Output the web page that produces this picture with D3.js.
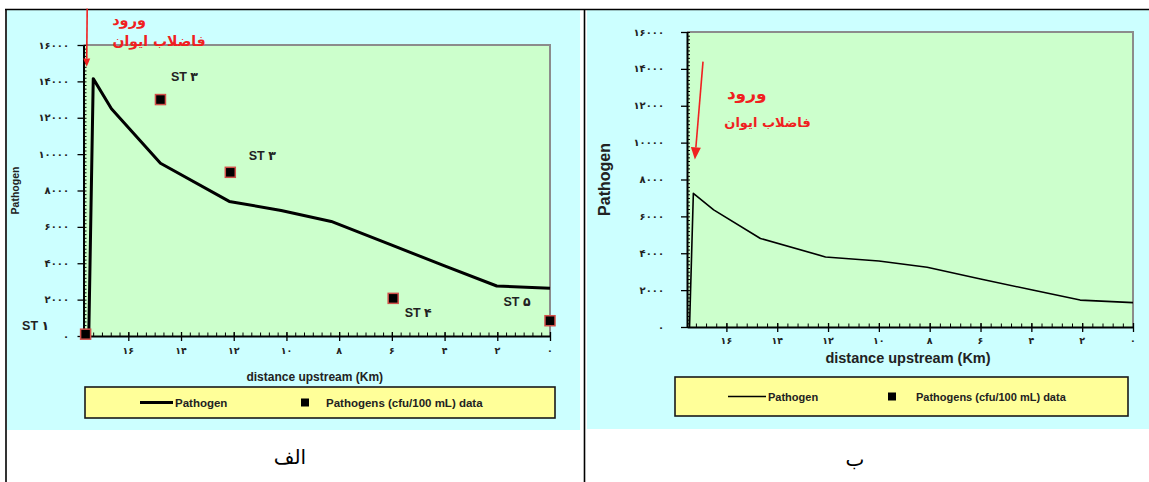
<!DOCTYPE html>
<html>
<head>
<meta charset="utf-8">
<script src="https://cdn.jsdelivr.net/npm/d3@7"></script>
<style>
  html, body { margin: 0; padding: 0; background: #fff; }
  svg { display: block; }
  text { font-family: "Liberation Sans", "DejaVu Sans", sans-serif; }
  .fa { font-family: "DejaVu Sans", sans-serif; }
</style>
</head>
<body>
<svg id="chart" width="1149" height="482"></svg>
<script>
// ---- data: panel الف (model line + measured stations) ----
const distanceA = [17.5, 17.33, 16.64, 14.78, 12.17, 10.2, 8.3, 6, 4, 2.02, 0];
const pathogenA = [0, 14150, 12500, 9500, 7400, 6900, 6300, 5000, 3850, 2750, 2620];
const stationDistA = [17.62, 14.78, 12.13, 5.95, 0];
const stationValA = [100, 13000, 9000, 2070, 840];
const stationLabelsA = ["ST ۱", "ST ۳", "ST ۳", "ST ۴", "ST ۵"];

// ---- data: panel ب (model line only) ----
const distanceB = [17.45, 17.3, 16.5, 14.66, 12.1, 10, 8.1, 6, 4, 2.08, 0];
const pathogenB = [0, 7250, 6350, 4800, 3800, 3580, 3240, 2600, 2020, 1460, 1320];

// ---- axes ----
const yTicks = [0, 2000, 4000, 6000, 8000, 10000, 12000, 14000, 16000];
const xTicks = [16, 14, 12, 10, 8, 6, 4, 2, 0];
const yTitle = "Pathogen";
const xTitle = "distance upstream (Km)";
const legendLabels = ["Pathogen", "Pathogens (cfu/100 mL) data"];
const captions = ["الف", "ب"];
const inflowText = ["ورود", "فاضلاب ایوان"];

// inflow arrow (distance, value) endpoints for each panel
const arrowA = [[17.56, 18000], [17.58, 14800]];
const arrowB = [[16.92, 14390], [17.24, 9090]];

const faDigits = "۰۱۲۳۴۵۶۷۸۹";
const fa = n => String(n).replace(/\d/g, d => faDigits[d]);

const svg = d3.select("#chart");

// ---- layout ----
const panels = [
  {
    cell: {x: 7, y: 10, w: 573, h: 420},
    plot: {l: 83.5, r: 550, t: 45, b: 336},
    xMax: 17.7, yMax: 16000,
    lineW: 3,
    yTitle: {x: 19, size: 10.5},
    xTitle: {y: 381, size: 12},
    tickSize: 10, xTickY: 354, yLabelX: 69,
    minorX: 1/3,
    legend: {x: 85, y: 387, w: 470, h: 31, l1: 140, l2: 173, t1: 175, sq: 305, t2: 326, size: 11.5},
    inflow: [{d: 15.97, v: 17370, size: 14.5}, {d: 14.83, v: 16220, size: 14}],
    arrowHead: 7,
    caption: {x: 290, y: 464}
  },
  {
    cell: {x: 587, y: 10, w: 562, h: 419},
    plot: {l: 687, r: 1133, t: 32, b: 327},
    xMax: 17.55, yMax: 16000,
    lineW: 1.6,
    yTitle: {x: 610, size: 16},
    xTitle: {y: 363, size: 14.5},
    tickSize: 10, xTickY: 344, yLabelX: 664,
    minorX: 0.4,
    legend: {x: 675, y: 377, w: 453, h: 39, l1: 728, l2: 766, t1: 768, sq: 892, t2: 916, size: 11},
    inflow: [{d: 15.2, v: 12690, size: 17}, {d: 14.38, v: 11120, size: 13}],
    arrowHead: 10,
    caption: {x: 855, y: 466}
  }
];

// ---- table frame ----
panels.forEach(p => {
  svg.append("rect").attr("x", p.cell.x).attr("y", p.cell.y)
    .attr("width", p.cell.w).attr("height", p.cell.h).attr("fill", "#ccffff");
});
svg.append("line").attr("x1", 5).attr("x2", 1149).attr("y1", 9.5).attr("y2", 9.5)
  .attr("stroke", "#000").attr("stroke-width", 1.5);
[6, 584.5].forEach(x => svg.append("line").attr("x1", x).attr("x2", x)
  .attr("y1", 9).attr("y2", 482).attr("stroke", "#000").attr("stroke-width", 1.6));

captions.forEach((c, i) => {
  svg.append("text").attr("class", "fa").attr("x", panels[i].caption.x).attr("y", panels[i].caption.y)
    .attr("text-anchor", "middle").attr("font-size", 20).attr("fill", "#000").text(c);
});

function drawPanel(p, dist, vals, stations, arrow) {
  const x = d3.scaleLinear().domain([p.xMax, 0]).range([p.plot.l, p.plot.r]);
  const y = d3.scaleLinear().domain([0, p.yMax]).range([p.plot.b, p.plot.t]);
  const g = svg.append("g");

  // plot area
  g.append("rect").attr("x", p.plot.l).attr("y", p.plot.t)
    .attr("width", p.plot.r - p.plot.l).attr("height", p.plot.b - p.plot.t)
    .attr("fill", "#ccffcc");
  g.append("path")
    .attr("d", `M${p.plot.l},${p.plot.t}H${p.plot.r}V${p.plot.b}`)
    .attr("fill", "none").attr("stroke", "#8c8c8c").attr("stroke-width", 2);

  // y axis: minor ticks crossing, major ticks outward with labels
  const yMinor = d3.range(0, p.yMax + 1, 200);
  g.append("g").attr("transform", `translate(${p.plot.l},0)`)
    .call(d3.axisLeft(y).tickValues(yMinor).tickSize(-3).tickFormat(""))
    .call(a => a.selectAll("line").attr("stroke", "#000"))
    .call(a => a.select(".domain").remove());
  g.append("g").attr("transform", `translate(${p.plot.l},0)`)
    .call(d3.axisLeft(y).tickValues(yTicks).tickSizeInner(6).tickSizeOuter(0).tickFormat(""))
    .call(a => a.selectAll("line").attr("stroke", "#000").attr("stroke-width", 1.3))
    .call(a => a.select(".domain").attr("stroke", "#000").attr("stroke-width", 2));
  g.selectAll(".ylab").data(yTicks).enter().append("text")
    .attr("class", "fa").attr("x", p.yLabelX).attr("y", d => y(d) + 3.5)
    .attr("text-anchor", "end").attr("font-size", p.tickSize).attr("font-weight", "bold")
    .attr("letter-spacing", 3.2).attr("fill", "#222").text(d => fa(d));

  // x axis: minor ticks inward, major ticks crossing
  const xMinor = d3.range(0, p.xMax, p.minorX);
  g.append("g").attr("transform", `translate(0,${p.plot.b})`)
    .call(d3.axisBottom(x).tickValues(xMinor).tickSize(-3.5).tickFormat(""))
    .call(a => a.selectAll("line").attr("stroke", "#000"))
    .call(a => a.select(".domain").remove());
  g.append("g").attr("transform", `translate(0,${p.plot.b})`)
    .call(d3.axisBottom(x).tickValues(xTicks).tickSizeInner(5).tickSizeOuter(0).tickFormat(""))
    .call(a => a.selectAll("line").attr("stroke", "#000").attr("stroke-width", 1.3).attr("y1", -4))
    .call(a => a.select(".domain").attr("stroke", "#000").attr("stroke-width", 2));
  g.selectAll(".xlab").data(xTicks).enter().append("text")
    .attr("class", "fa").attr("x", d => x(d)).attr("y", p.xTickY)
    .attr("text-anchor", "middle").attr("font-size", p.tickSize - 0.5).attr("font-weight", "bold")
    .attr("letter-spacing", 1.5).attr("fill", "#222").text(d => fa(d));

  // axis titles
  g.append("text")
    .attr("transform", `translate(${p.yTitle.x},${(p.plot.t + p.plot.b) / 2}) rotate(-90)`)
    .attr("text-anchor", "middle").attr("font-size", p.yTitle.size).attr("font-weight", "bold")
    .attr("fill", "#222").text(yTitle);
  g.append("text").attr("x", (p.plot.l + p.plot.r) / 2 - 2).attr("y", p.xTitle.y)
    .attr("text-anchor", "middle").attr("font-size", p.xTitle.size).attr("font-weight", "bold")
    .attr("fill", "#222").text(xTitle);

  // model line
  const line = d3.line().x(d => x(d[0])).y(d => y(d[1]));
  g.append("path").datum(d3.zip(dist, vals)).attr("d", line)
    .attr("fill", "none").attr("stroke", "#000").attr("stroke-width", p.lineW)
    .attr("stroke-linejoin", "round");

  // measured stations
  if (stations) {
    const pts = d3.zip(stations.d, stations.v, stations.labels, stations.offsets);
    g.selectAll(".st").data(pts).enter().append("rect")
      .attr("x", d => x(d[0]) - 5).attr("y", d => y(d[1]) - 5)
      .attr("width", 10).attr("height", 10)
      .attr("fill", "#000").attr("stroke", "#d0504a").attr("stroke-width", 1.5);
    g.selectAll(".stl").data(pts).enter().append("text")
      .attr("x", d => x(d[0]) + d[3][0]).attr("y", d => y(d[1]) + d[3][1] + 4.5)
      .attr("text-anchor", "middle").attr("font-size", 12.5).attr("font-weight", "bold")
      .attr("fill", "#222").text(d => d[2]);
  }

  // inflow arrow and note
  const ax1 = x(arrow[0][0]), ay1 = y(arrow[0][1]);
  const ax2 = x(arrow[1][0]), ay2 = y(arrow[1][1]);
  const ang = Math.atan2(ay2 - ay1, ax2 - ax1);
  const hl = p.arrowHead * 1.2, hw = p.arrowHead / 2;
  const bx = ax2 - hl * Math.cos(ang), by = ay2 - hl * Math.sin(ang);
  g.append("line").attr("x1", ax1).attr("y1", ay1).attr("x2", bx).attr("y2", by)
    .attr("stroke", "#f02020").attr("stroke-width", 1.6);
  g.append("path")
    .attr("d", `M${ax2},${ay2}L${bx + hw * Math.sin(ang)},${by - hw * Math.cos(ang)}L${bx - hw * Math.sin(ang)},${by + hw * Math.cos(ang)}Z`)
    .attr("fill", "#f02020");
  inflowText.forEach((t, i) => {
    g.append("text").attr("class", "fa")
      .attr("x", x(p.inflow[i].d)).attr("y", y(p.inflow[i].v) + p.inflow[i].size * 0.35)
      .attr("text-anchor", "middle").attr("font-size", p.inflow[i].size)
      .attr("font-weight", "bold").attr("fill", "#f02020").text(t);
  });

  // legend
  const L = p.legend, ly = L.y + L.h / 2;
  g.append("rect").attr("x", L.x).attr("y", L.y).attr("width", L.w).attr("height", L.h)
    .attr("fill", "#ffff99").attr("stroke", "#1a1a1a").attr("stroke-width", 1.6);
  g.append("line").attr("x1", L.l1).attr("x2", L.l2).attr("y1", ly).attr("y2", ly)
    .attr("stroke", "#000").attr("stroke-width", p.lineW);
  g.append("text").attr("x", L.t1).attr("y", ly + 4).attr("font-size", L.size)
    .attr("font-weight", "bold").attr("fill", "#222").text(legendLabels[0]);
  g.append("rect").attr("x", L.sq - 4).attr("y", ly - 4).attr("width", 8).attr("height", 8)
    .attr("fill", "#000");
  g.append("text").attr("x", L.t2).attr("y", ly + 4).attr("font-size", L.size)
    .attr("font-weight", "bold").attr("fill", "#222").text(legendLabels[1]);
}

// label offsets (px) from each station marker
const stationOffsetsA = [[-50, -9], [24, -23], [32, -17], [25, 14], [-33, -19]];

drawPanel(panels[0], distanceA, pathogenA,
  {d: stationDistA, v: stationValA, labels: stationLabelsA, offsets: stationOffsetsA}, arrowA);
drawPanel(panels[1], distanceB, pathogenB, null, arrowB);
</script>
</body>
</html>
